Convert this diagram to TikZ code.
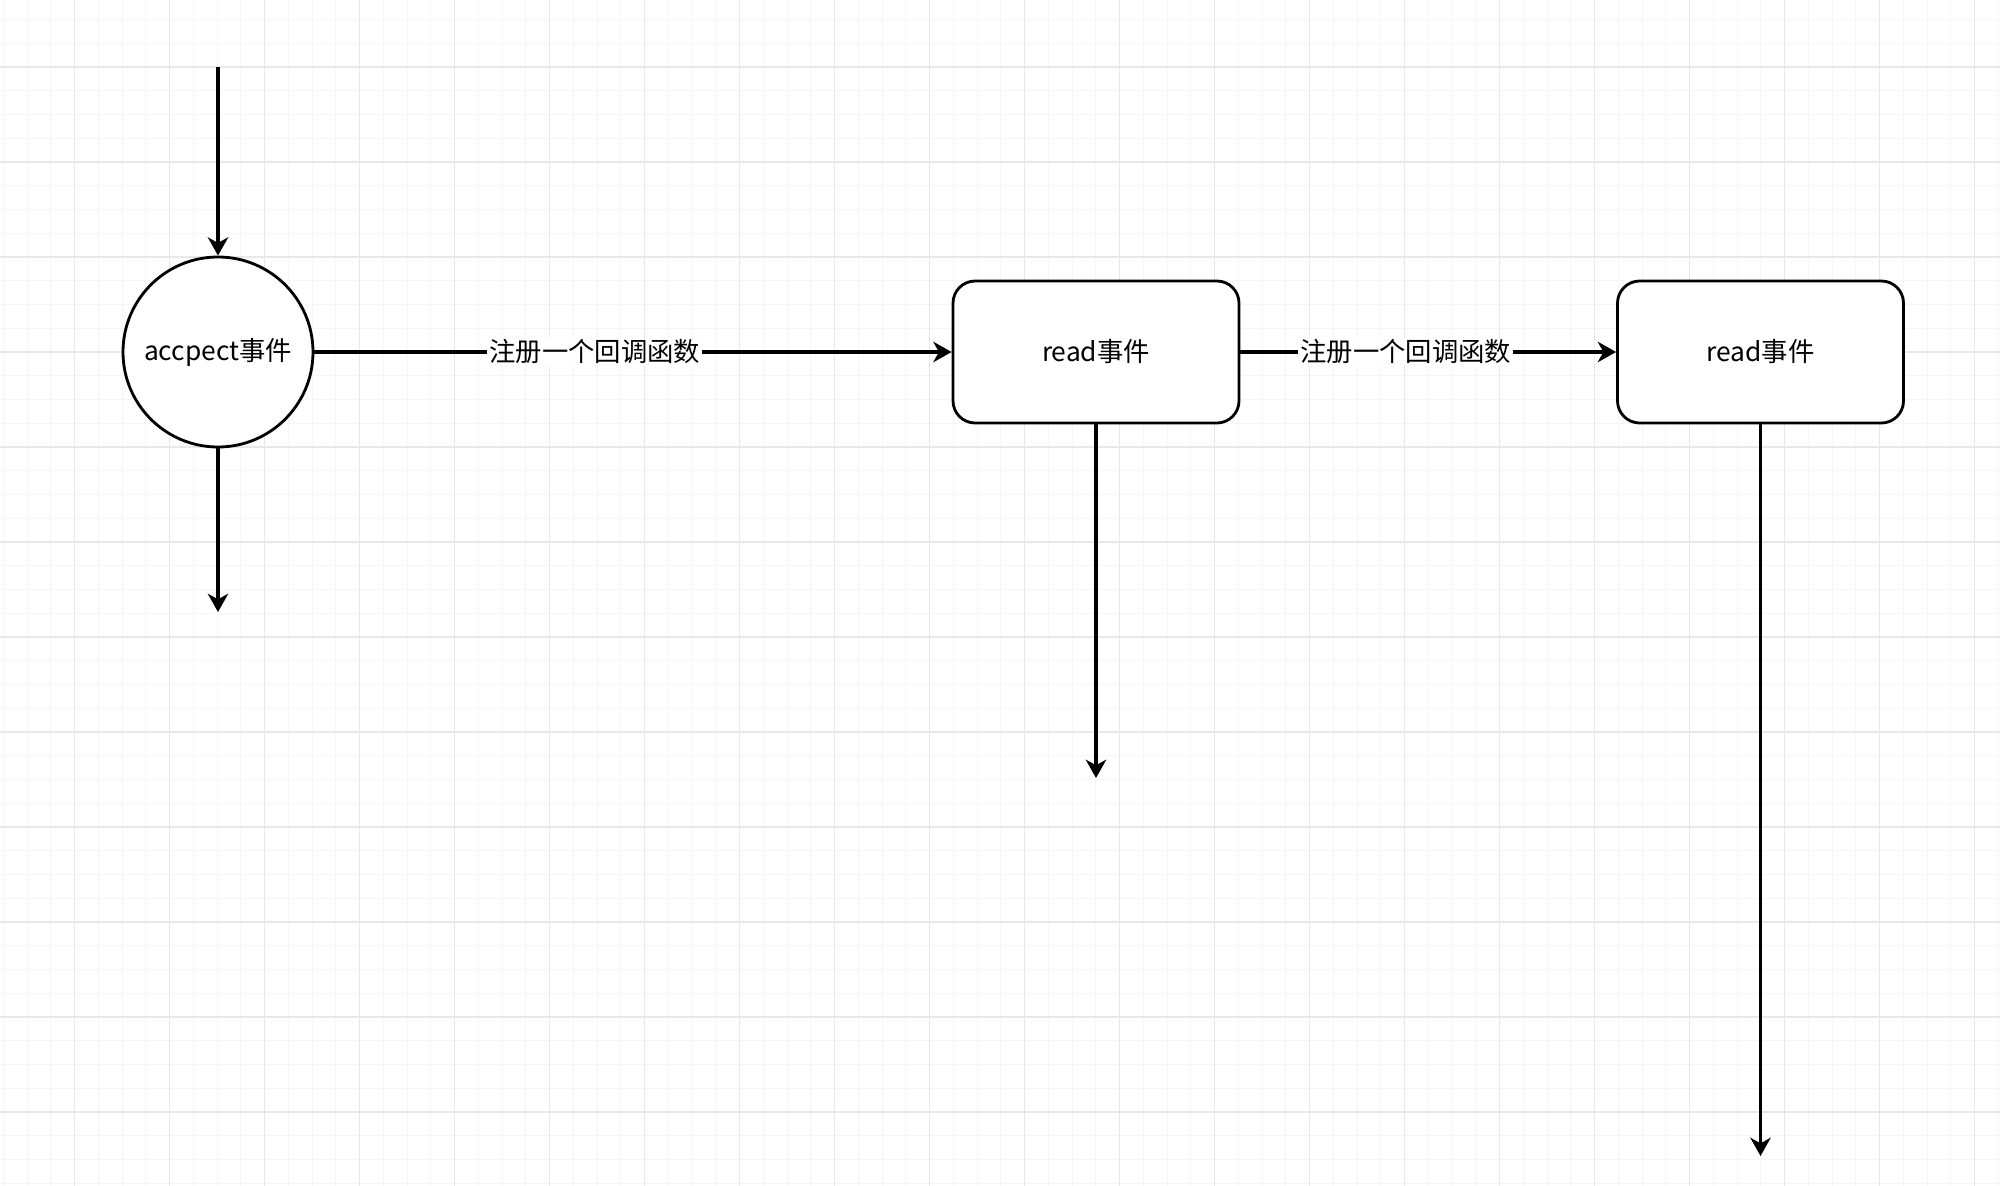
\documentclass[tikz,border=0pt]{standalone}
\usepackage{fontspec}
\setmainfont{Noto Sans CJK SC}
\usetikzlibrary{arrows.meta}
\definecolor{majorgray}{HTML}{E8E8E8}
\definecolor{minorgray}{HTML}{F6F6F6}
\tikzstyle{edge} = [draw,line width=0.9pt,-{Stealth[length=5.2pt,width=5.8pt,inset=1.6pt]}]
\tikzstyle{callback} = [fill=white,inner sep=0.6pt,font=\fontsize{7.5}{9}\selectfont]
\tikzstyle{event} = [draw,line width=0.8pt,rounded corners=6.3pt,fill=white,minimum width=2.86cm,minimum height=1.42cm,font=\fontsize{7.5}{9}\selectfont]
\tikzstyle{start} = [circle,draw,line width=0.8pt,fill=white,minimum size=1.9cm,inner sep=0pt,font=\fontsize{7.5}{9}\selectfont]
\tikzstyle{minorgrid} = [draw=minorgray,line width=0.3pt]
\tikzstyle{majorgrid} = [draw=majorgray,line width=0.45pt]

\begin{document}
\begin{tikzpicture}
\useasboundingbox (0,0) rectangle (20,11.85);
\fill[white] (0,0) rectangle (20,11.85);
\begin{scope}[shift={(0.746,0.73)}]
	\clip (-0.746,-0.73) rectangle (19.254,11.12);
	\draw[minorgrid] (-1,-1) grid[step=0.2375] (20,12);
	\draw[majorgrid] (-1,-1) grid[step=0.95] (20,12);
\end{scope}

\node[start] (acc) at (2.18,8.33) {accpect事件};
\node[event] (r1) at (10.96,8.33) {read事件};
\node[event] (r2) at (17.605,8.33) {read事件};
\coordinate (in) at (2.18,11.18);
\coordinate (o1) at (2.18,5.73);
\coordinate (o2) at (10.96,4.07);
\coordinate (o3) at (17.605,0.29);

\path[edge] (in) -- (acc);
\foreach \source/ \dest in {acc/o1, r1/o2, r2/o3}
\path[edge] (\source) -- (\dest);
\foreach \source/ \dest in {acc/r1, r1/r2}
\path[edge] (\source) -- node[callback, pos=0.44] {注册一个回调函数} (\dest);
\end{tikzpicture}
\end{document}
